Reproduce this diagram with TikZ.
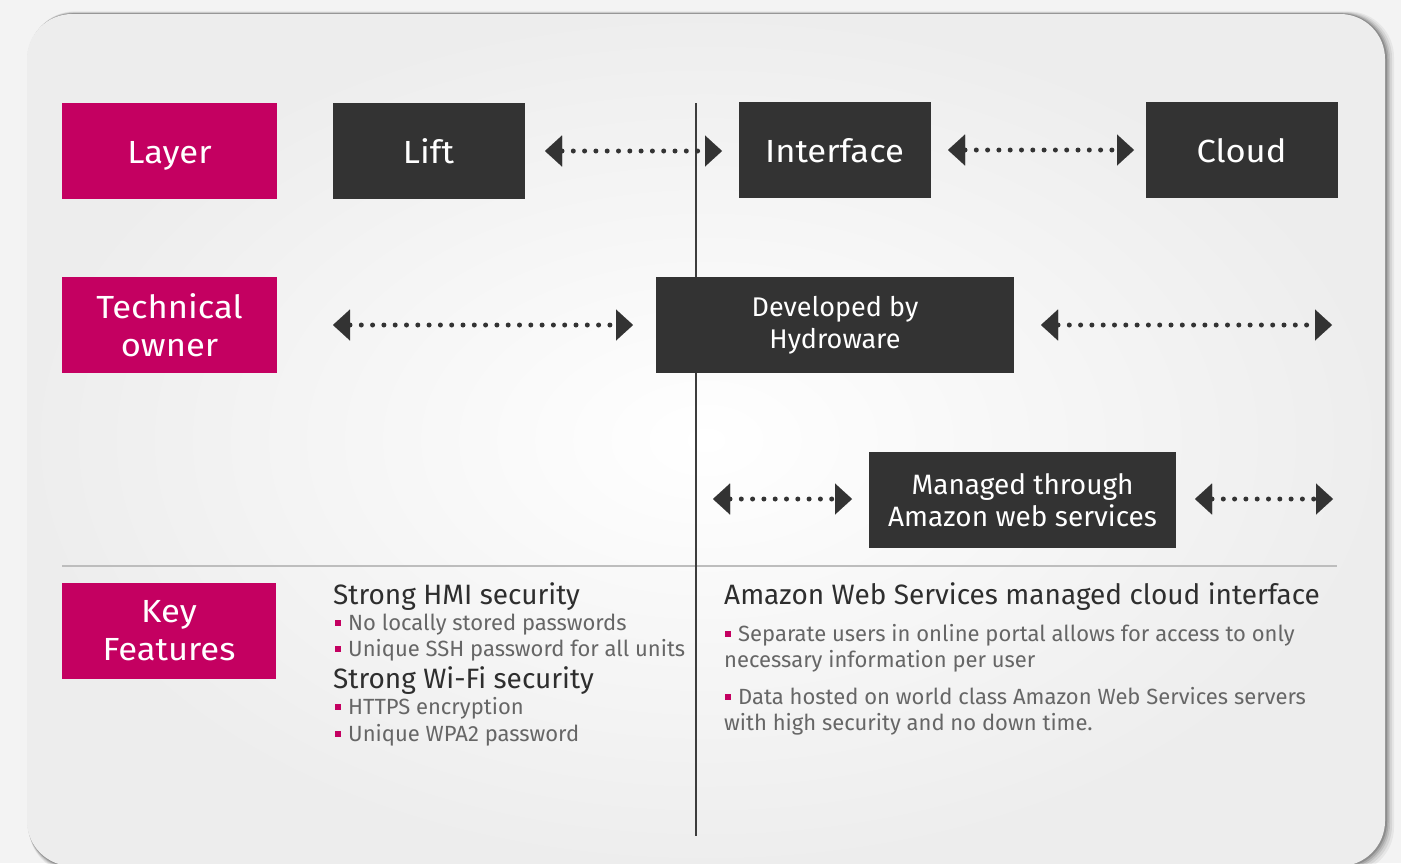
\documentclass[tikz,border=0pt]{standalone}
\usepackage{fontspec}
\setmainfont{Fira Sans}
\newfontfamily\widef[FakeStretch=1.08]{Fira Sans}
\usetikzlibrary{arrows.meta}
\definecolor{mag}{HTML}{C40061}
\definecolor{dark}{HTML}{333333}
\definecolor{txt}{HTML}{2E2E2E}
\definecolor{gtxt}{HTML}{666666}
\definecolor{outbg}{HTML}{F3F3F3}
\definecolor{rulegray}{HTML}{BDBDBD}
\newcommand{\bfnt}{\widef\fontsize{32}{38}\selectfont}
\newcommand{\sfnt}{\fontsize{27}{32}\selectfont}
\newcommand{\mfnt}{\fontsize{28}{32}\selectfont}
\newcommand{\hfnt}{\fontsize{28}{30}\selectfont}
\newcommand{\lfnt}{\fontsize{22}{26}\selectfont}
\newcommand{\blt}{\raisebox{4pt}{\textcolor{mag}{\rule{6pt}{6pt}}}\hspace{7pt}}
\begin{document}
\begin{tikzpicture}[x=1pt,y=-1pt,
  magbox/.style={fill=mag, text=white, minimum width=215pt, minimum height=96pt, inner sep=0pt, align=center, font=\bfnt},
  darkbox/.style={fill=dark, text=white, minimum width=192pt, minimum height=96pt, inner sep=0pt, align=center, font=\bfnt},
  oneline/.style={text height=25pt, text depth=0pt},
  dotarrow/.style={draw=dark, line width=5pt, line cap=round, dash pattern=on 0pt off 11.3pt,
     {Triangle[width=31pt,length=17pt,line width=0.01pt]}-{Triangle[width=31pt,length=17pt,line width=0.01pt]}},
  head/.style={anchor=base west, inner sep=0pt, text=txt, font=\hfnt},
  item/.style={anchor=base west, inner sep=0pt, text=gtxt, font=\lfnt}
]
\useasboundingbox (0,0) rectangle (1401,863);
\fill[outbg] (0,0) rectangle (1401,863);
% card shadow
\foreach \i/\o in {9/0.05,7/0.07,5/0.09,3.5/0.12,2/0.16}{
  \fill[black, opacity=\o, rounded corners=46pt] (27+\i*0.2,14-\i*0.3) rectangle (1385+\i,866+\i*0.8);
}
\shade[rounded corners=45pt, inner color=white, outer color=black!7] (27,14) rectangle (1385,866);

% rules
\draw[rulegray, line width=2.5pt] (62,566) -- (1337,566);
\draw[dark!95, line width=2.6pt] (696,103) -- (696,836);

% left labels
\node[magbox, oneline] (layer) at (169.5,151) {Layer};
\node[magbox] (tech) at (169.5,325) {Technical\\owner};
\node[magbox, minimum width=214pt] (key) at (169,631) {Key\\Features};

% top row
\node[darkbox, oneline] (lift) at (428.5,151) {Lift};
\node[darkbox, oneline] (iface) at (834.5,150) {Interface};
\node[darkbox, oneline] (cloud) at (1241.5,150) {Cloud};
\node[darkbox, minimum width=358pt, font=\sfnt] (dev) at (835,325) {Developed by\\Hydroware};
\node[darkbox, minimum width=307pt, font=\mfnt] (aws) at (1022.5,500) {Managed through\\Amazon web services};

% arrow ends
\coordinate (a1l) at (545,151); \coordinate (a1r) at (722,151);
\coordinate (a2l) at (948,150); \coordinate (a2r) at (1134,150);
\coordinate (b1l) at (333,325); \coordinate (b1r) at (633,325);
\coordinate (b2l) at (1041,325); \coordinate (b2r) at (1332,325);
\coordinate (c1l) at (713,499); \coordinate (c1r) at (852,499);
\coordinate (c2l) at (1195,499); \coordinate (c2r) at (1333,499);
\foreach \p in {a1,a2,b1,b2,c1,c2}{\draw[dotarrow] (\p l) -- (\p r);}

% key features left
\node[head] (h1) at (333,604) {Strong HMI security};
\node[item] (i1) at (335,630) {\blt No locally stored passwords};
\node[item] (i2) at (335,656) {\blt Unique SSH password for all units};
\node[head] (h2) at (333,688) {Strong Wi-Fi security};
\node[item] (i3) at (335,714) {\blt HTTPS encryption};
\node[item] (i4) at (335,741) {\blt Unique WPA2 password};

% key features right
\node[head] (h3) at (724,604) {Amazon Web Services managed cloud interface};
\node[item] (r1) at (725,641) {\blt Separate users in online portal allows for access to only};
\node[item] (r1b) at (724,667) {necessary information per user};
\node[item] (r2) at (725,704) {\blt Data hosted on world class Amazon Web Services servers};
\node[item] (r2b) at (724,730) {with high security and no down time.};
\end{tikzpicture}
\end{document}
